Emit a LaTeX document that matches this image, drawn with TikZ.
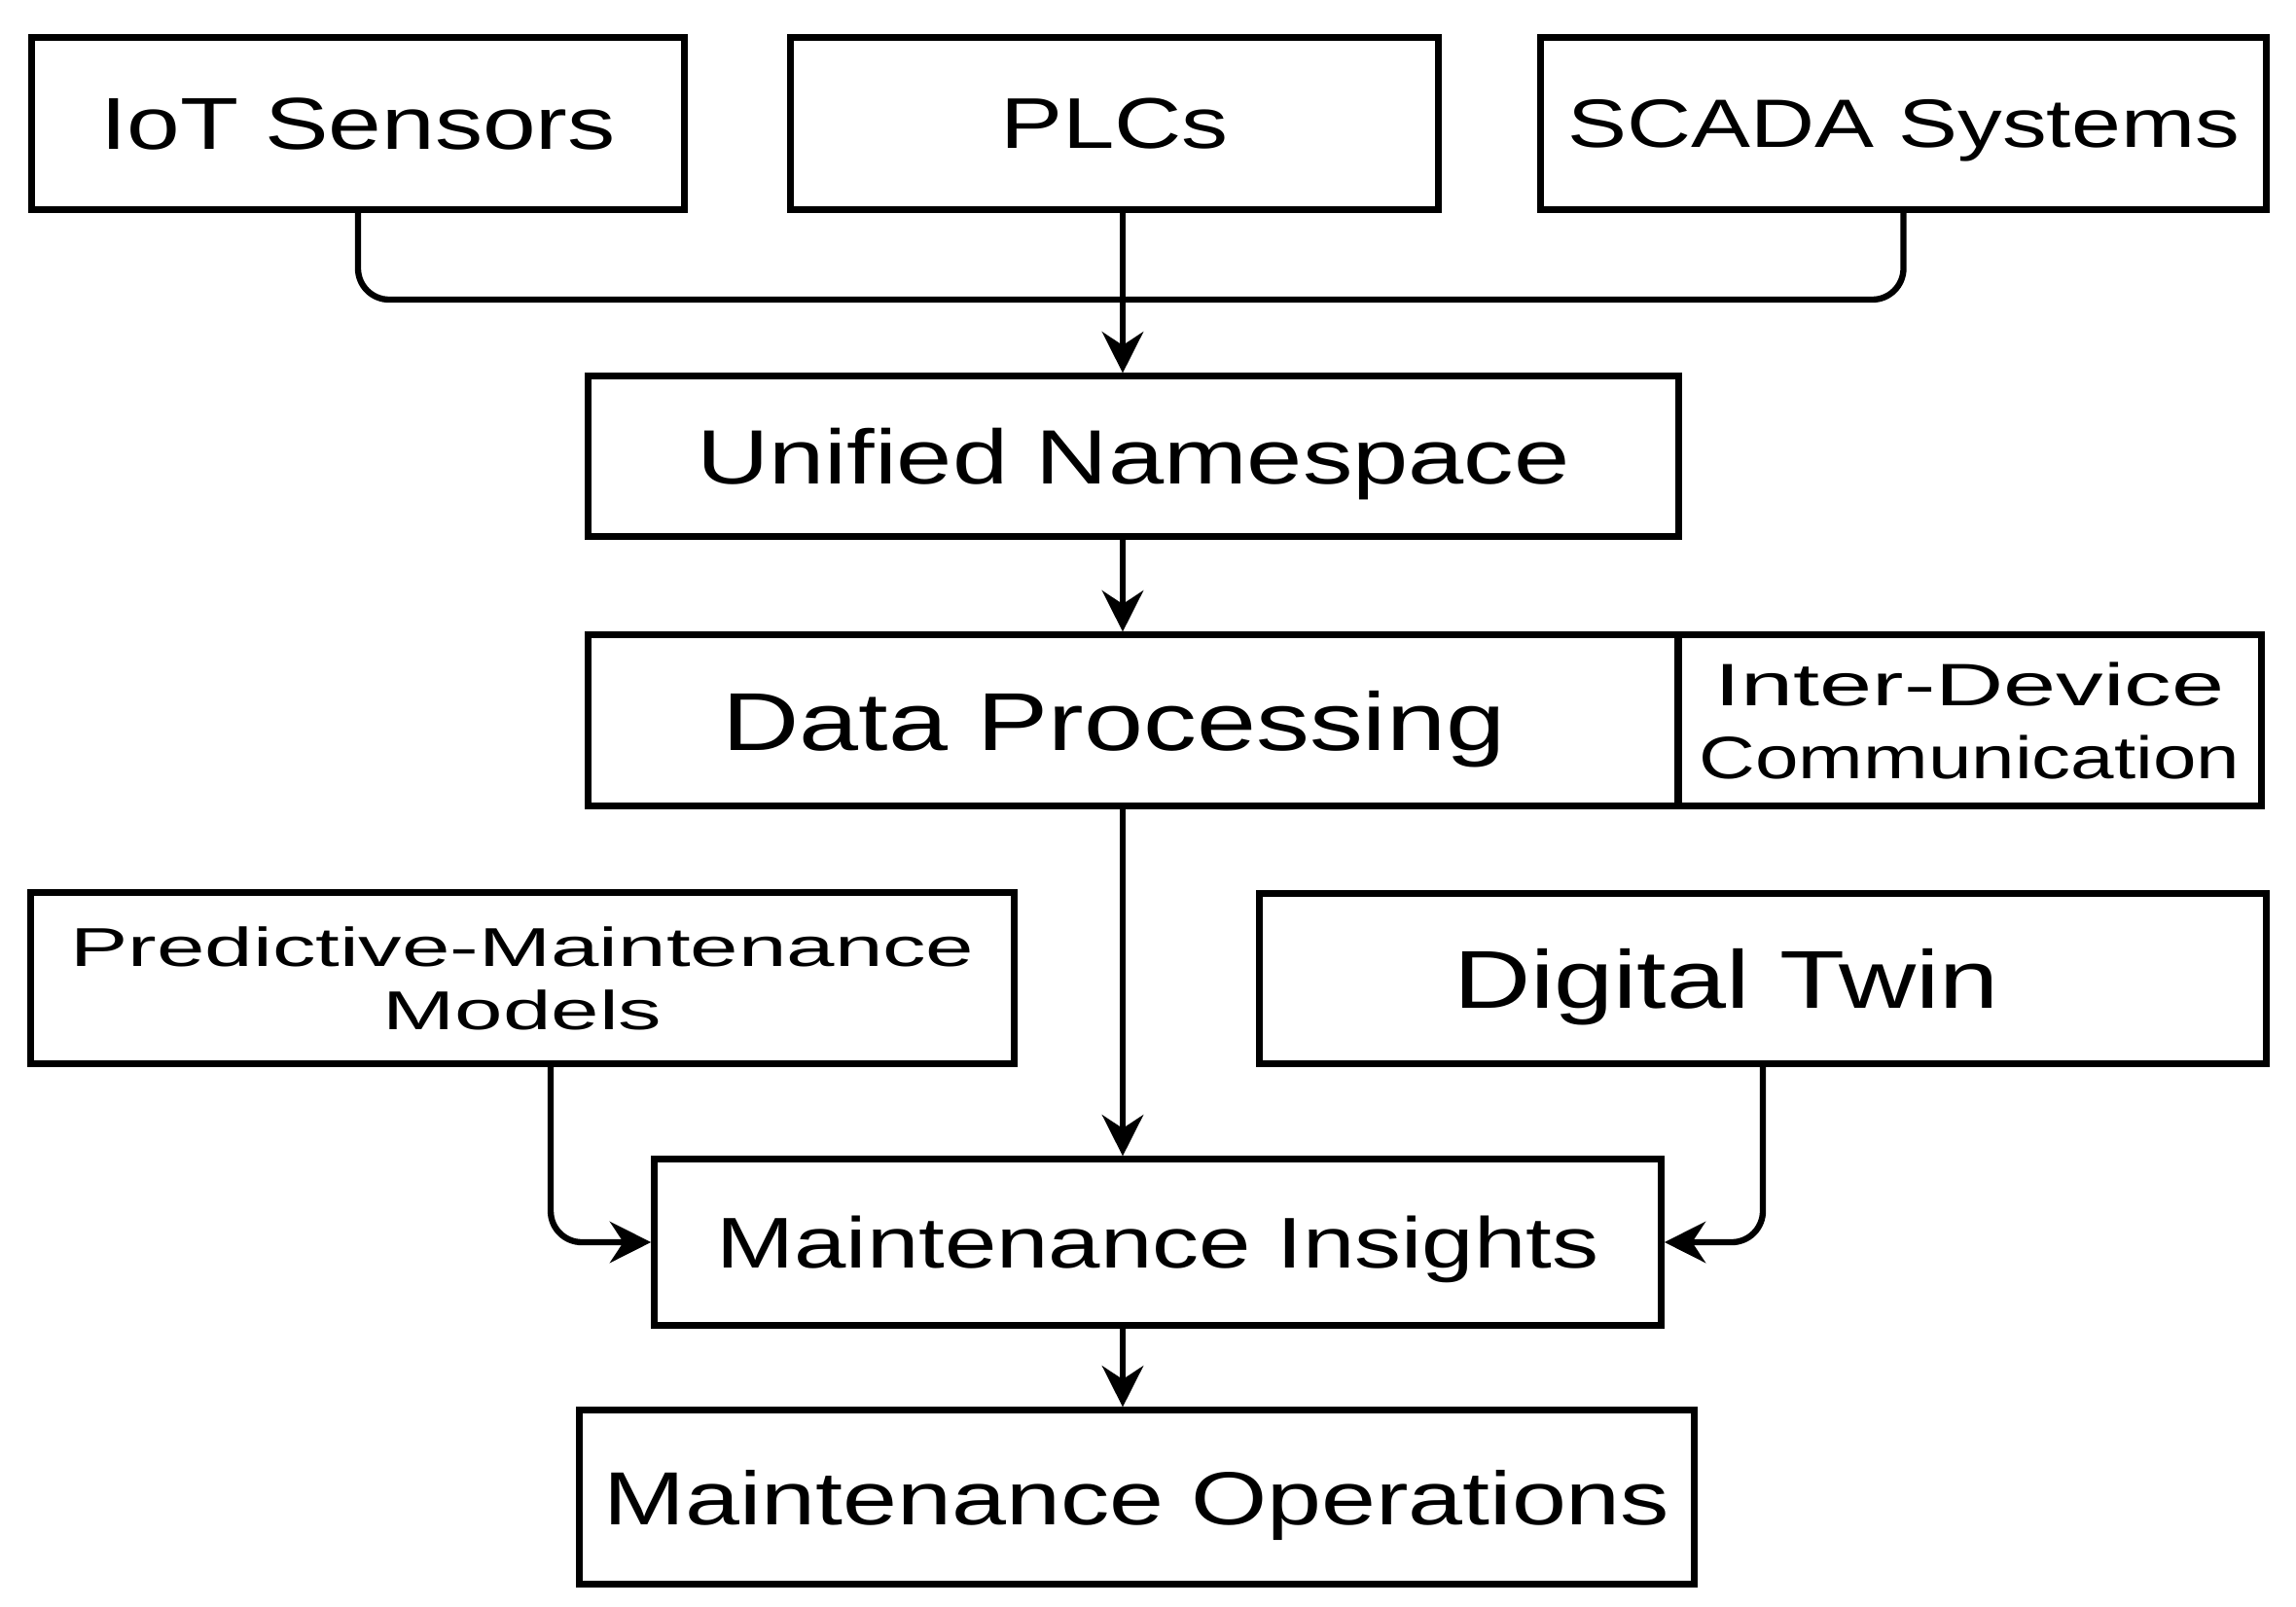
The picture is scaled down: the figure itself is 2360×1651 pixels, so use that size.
\documentclass[tikz,border=0pt]{standalone}
\usepackage{fontspec}
\setmainfont{Liberation Sans}[FakeStretch=1.3]
\newfontfamily\anchafont{Liberation Sans}[FakeStretch=1.58]
\usetikzlibrary{arrows.meta}

\tikzset{
  caja/.style={draw, line width=2pt, inner sep=0pt, align=center, text depth=0pt},
  flecha/.style={->, line width=1.8pt},
  linea/.style={line width=1.8pt, rounded corners=0.32cm},
}

\begin{document}
\begin{tikzpicture}[x=0.01cm, y=-0.01cm, >={Stealth[length=12pt, width=12pt]}]
  \useasboundingbox (0,0) rectangle (2360,1651);

  % Fuentes de datos
  \node[caja, minimum width=6.70cm, minimum height=1.76cm,
        font=\fontsize{21.5}{25}\selectfont] (iot) at (368,127) {IoT Sensors};
  \node[caja, minimum width=6.65cm, minimum height=1.76cm,
        font=\fontsize{21}{25}\selectfont] (plc) at (1145.5,127) {PLCs};
  \node[caja, minimum width=7.45cm, minimum height=1.76cm,
        font=\fontsize{20}{24}\selectfont] (scada) at (1956.5,127) {SCADA Systems};

  % Capa central
  \node[caja, minimum width=11.20cm, minimum height=1.64cm,
        font=\fontsize{22.5}{27}\selectfont] (uns) at (1165,469) {Unified Namespace};
  \node[caja, minimum width=11.20cm, minimum height=1.75cm,
        font=\fontsize{24}{28}\selectfont] (proc) at (1165,740.5) {Data Processing\hspace*{0.4cm}};
  \node[caja, minimum width=5.99cm, minimum height=1.75cm,
        font=\fontsize{17.5}{21.5}\selectfont] (idc) at (2024.5,740.5) {{\anchafont Inter-Device}\\Communication};

  % Modelos
  \node[caja, minimum width=10.10cm, minimum height=1.75cm,
        font=\anchafont\fontsize{16}{18.5}\selectfont] (pm) at (537,1005.5) {Predictive-Maintenance\\Models};
  \node[caja, minimum width=10.34cm, minimum height=1.74cm,
        font=\fontsize{24}{28}\selectfont] (twin) at (1812,1006) {Digital Twin\hspace*{0.75cm}};

  % Resultados
  \node[caja, minimum width=10.34cm, minimum height=1.70cm,
        font=\fontsize{21}{25}\selectfont] (ins) at (1190,1277) {Maintenance Insights};
  \node[caja, minimum width=11.45cm, minimum height=1.78cm,
        font=\fontsize{22}{26}\selectfont] (ops) at (1168.5,1539) {Maintenance Operations};

  % Conexiones
  \coordinate (eje) at (1154,0);
  \coordinate (bus) at (1154,308);
  \draw[linea] (iot.south) |- (bus) -| (scada.south);
  \draw[flecha] (plc.south -| eje) -- (uns.north -| eje);
  \draw[flecha] (uns.south -| eje) -- (proc.north -| eje);
  \draw[flecha] (proc.south -| eje) -- (ins.north -| eje);
  \draw[flecha] (ins.south -| eje) -- (ops.north -| eje);
  \draw[flecha, rounded corners=0.32cm] ([xshift=0.29cm]pm.south) |- (ins.west);
  \draw[flecha, rounded corners=0.32cm] (twin.south) |- (ins.east);
\end{tikzpicture}
\end{document}
